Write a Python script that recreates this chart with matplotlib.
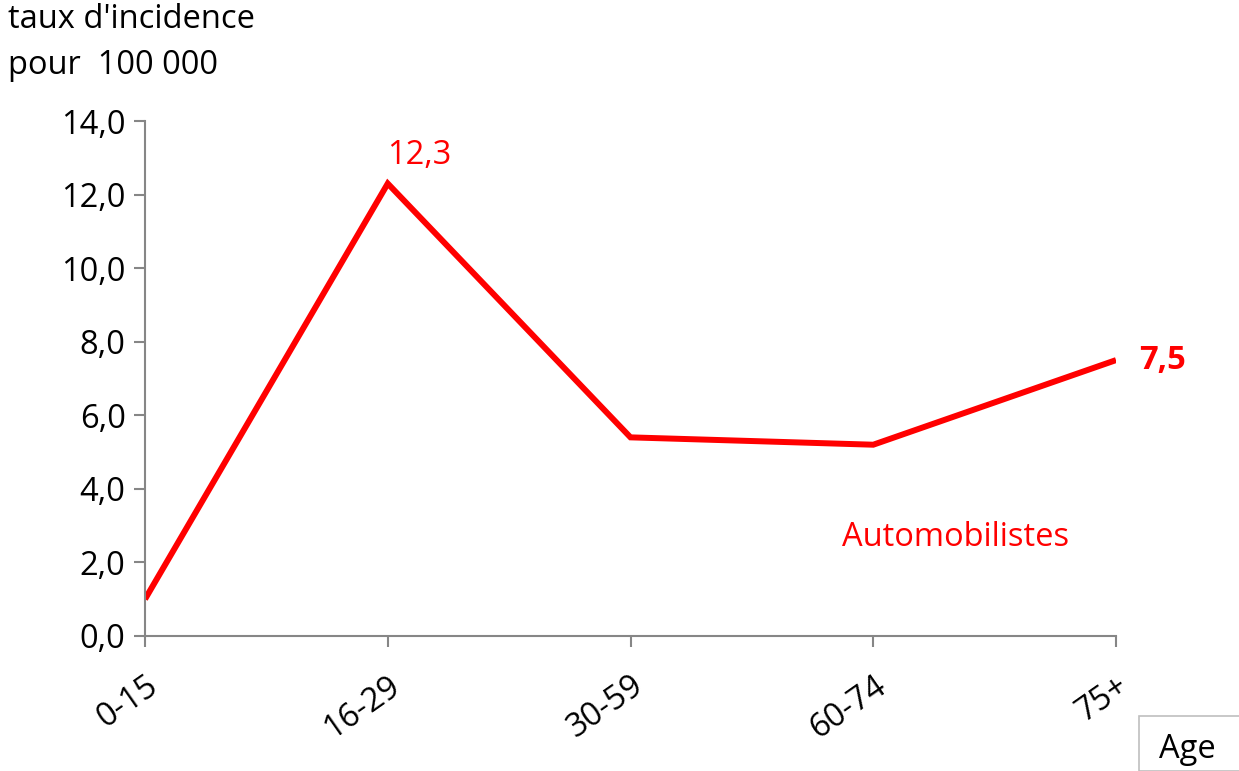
import matplotlib.pyplot as plt
from matplotlib.patches import Rectangle

ages = ["0-15", "16-29", "30-59", "60-74", "75+"]
taux = [1.0, 12.3, 5.4, 5.2, 7.5]
yticks = [0, 2, 4, 6, 8, 10, 12, 14]

red = "#FF0000"
grey = "#868686"
fs = 23.5
plt.rcParams['font.family'] = ['Open Sans', 'DejaVu Sans']

fig = plt.figure(figsize=(12.39, 7.71), dpi=100)
ax = fig.add_axes([145 / 1239, 1 - 636 / 771, (1116 - 145) / 1239, (636 - 121) / 771])

x = list(range(len(ages)))
ax.plot(x, taux, color=red, linewidth=4.3, solid_capstyle='butt', solid_joinstyle='miter')

ax.set_xlim(0, len(ages) - 1)
ax.set_ylim(0, 14)
ax.set_yticks(yticks)
ax.set_yticklabels([f"{v:.1f}".replace(".", ",") for v in yticks], fontsize=fs)
ax.set_xticks(x)
ax.set_xticklabels(ages, fontsize=fs, rotation=35, ha='right', va='top',
                   rotation_mode='anchor')

for s in ['top', 'right']:
    ax.spines[s].set_visible(False)
for s in ['left', 'bottom']:
    ax.spines[s].set_color(grey)
    ax.spines[s].set_linewidth(1.5)
ax.spines['left'].set_bounds(0, 14)
ax.tick_params(axis='both', colors=grey, width=1.5, length=8, labelcolor='black')
ax.tick_params(axis='x', pad=16)
ax.tick_params(axis='y', pad=6)

# labels
ax.annotate("12,3", (1, taux[1]), xytext=(23, 20), textcoords='offset points',
            ha='center', va='center', color=red, fontsize=fs)
ax.annotate("7,5", (4, taux[4]), xytext=(17, 0), textcoords='offset points',
            ha='left', va='center', color=red, fontsize=fs, fontweight='bold')
ax.text(3.34, 2.69, "Automobilistes", color=red, fontsize=fs, ha='center', va='center')

fig.text(8 / 1239, 1 - 20 / 771, "taux d'incidence", fontsize=fs, va='center', ha='left')
fig.text(8 / 1239, 1 - 65 / 771, "pour  100 000", fontsize=fs, va='center', ha='left')

fig.patches.append(Rectangle((1139 / 1239, 0), 0.2, (771 - 716) / 771,
                             transform=fig.transFigure, facecolor='white',
                             edgecolor='#BFBFBF', linewidth=1.2))
fig.text(1187 / 1239, 1 - 750 / 771, "Age", fontsize=fs, ha='center', va='center')

fig.savefig("out.png", dpi=100)
